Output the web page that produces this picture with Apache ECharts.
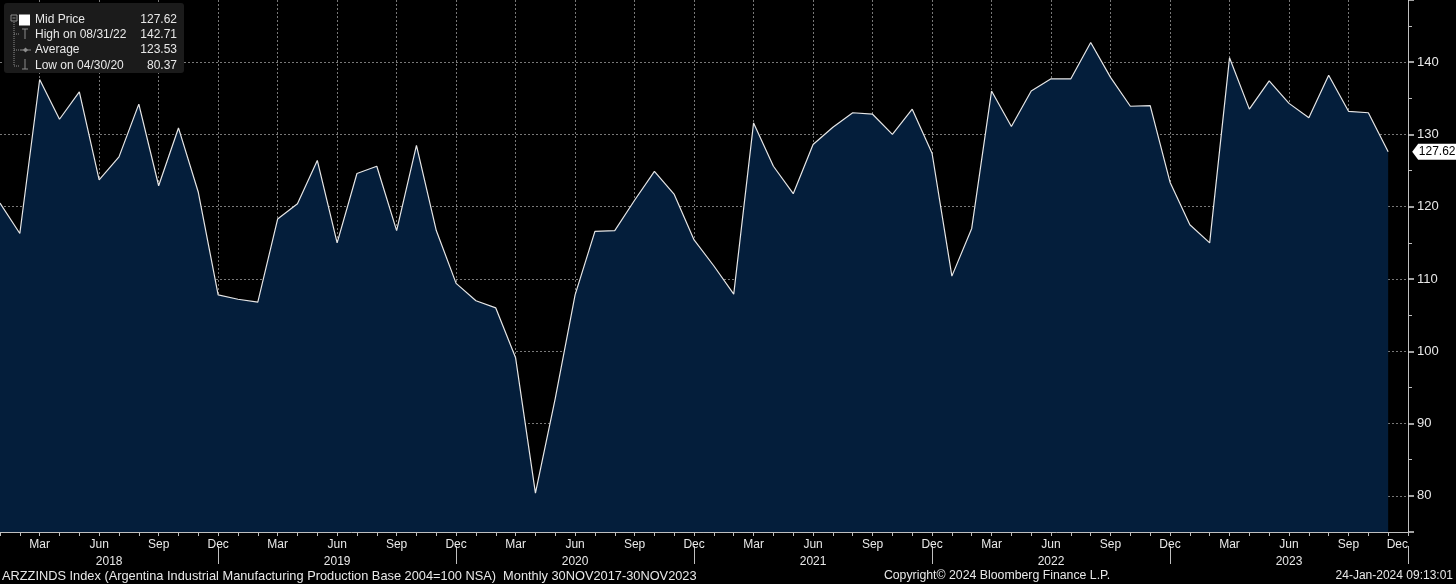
<!DOCTYPE html>
<html>
<head>
<meta charset="utf-8">
<script src="https://cdn.jsdelivr.net/npm/echarts@6/dist/echarts.min.js"></script>
<style>
  html, body { margin: 0; padding: 0; background: #000; }
  #chart { width: 1456px; height: 584px; }
</style>
</head>
<body>
<div id="chart"></div>
<script>
// ---- data ----
const years = ['2018', '2019', '2020', '2021', '2022', '2023'];
const monthNames = ['Jan', 'Feb', 'Mar', 'Apr', 'May', 'Jun', 'Jul', 'Aug', 'Sep', 'Oct', 'Nov', 'Dec'];
const tickMonths = ['Mar', 'Jun', 'Sep', 'Dec'];

// Monthly values Jan 2018 .. Nov 2023
const values2018 = [120.5, 116.3, 137.6, 132.1, 135.9, 123.7, 126.9, 134.2, 122.9, 130.9, 122.0, 107.8];
const values2019 = [107.2, 106.8, 118.3, 120.4, 126.4, 115.0, 124.6, 125.6, 116.7, 128.5, 116.7, 109.4];
const values2020 = [107.0, 106.0, 99.1, 80.37, 93.5, 107.8, 116.6, 116.7, 120.9, 124.9, 121.7, 115.4];
const values2021 = [111.8, 107.9, 131.6, 125.6, 121.8, 128.6, 131.0, 133.0, 132.8, 130.0, 133.5, 127.4];
const values2022 = [110.4, 117.0, 136.0, 131.1, 136.0, 137.7, 137.7, 142.71, 137.9, 133.9, 134.0, 123.4];
const values2023 = [117.5, 115.0, 140.6, 133.5, 137.4, 134.3, 132.3, 138.2, 133.2, 133.0, 127.62];

const legendLabels = ['High on 08/31/22', 'Average', 'Low on 04/30/20'];
const legendValues = ['142.71', '123.53', '80.37'];
const footerLeft = 'ARZZINDS Index (Argentina Industrial Manufacturing Production Base 2004=100 NSA)  Monthly 30NOV2017-30NOV2023';
const footerMid = 'Copyright\u00A9 2024 Bloomberg Finance L.P.';
const footerRight = '24-Jan-2024 09:13:01';

// ---- build ----
const months = [];
years.forEach(y => monthNames.forEach(m => months.push(m + ' ' + y)));
const values = [].concat(values2018, values2019, values2020, values2021, values2022, values2023);
const lastIndex = values.length - 1;
const lastValue = values[lastIndex];

const FONT = '"Liberation Sans", Arial, sans-serif';
const gridColor = 'rgba(200,200,200,0.6)';
const axisColor = '#bfbfbf';
const textColor = '#e8e8e8';

const chart = echarts.init(document.getElementById('chart'));

function txt(x, y, text, align, size) {
  return {
    type: 'text', z: 6,
    style: {
      x: x, y: y, text: text, fill: textColor,
      font: (size || 12) + 'px ' + FONT,
      align: align || 'left', verticalAlign: 'middle',
      textAlign: align || 'left', textVerticalAlign: 'middle'
    }
  };
}

const legendRows = [];
legendLabels.forEach((lab, i) => {
  const y = 34.5 + i * 15.5;
  legendRows.push(txt(35, y, lab, 'left'));
  legendRows.push(txt(177, y, legendValues[i], 'right'));
});

const iconColor = '#8c8c8c';
const icons = [
  // tree connector
  { type: 'line', z: 5, shape: { x1: 14, y1: 22, x2: 14, y2: 66 }, style: { stroke: iconColor, lineWidth: 1, lineDash: [1, 1] } },
  { type: 'rect', z: 5, shape: { x: 11, y: 15, width: 6, height: 6 }, style: { stroke: iconColor, fill: 'none', lineWidth: 1 } },
  { type: 'line', z: 5, shape: { x1: 12.5, y1: 18, x2: 15.5, y2: 18 }, style: { stroke: iconColor, lineWidth: 1 } },
  { type: 'line', z: 5, shape: { x1: 14, y1: 34, x2: 20, y2: 34 }, style: { stroke: iconColor, lineWidth: 1, lineDash: [1, 1] } },
  { type: 'line', z: 5, shape: { x1: 14, y1: 50, x2: 19, y2: 50 }, style: { stroke: iconColor, lineWidth: 1, lineDash: [1, 1] } },
  { type: 'line', z: 5, shape: { x1: 14, y1: 66, x2: 20, y2: 66 }, style: { stroke: iconColor, lineWidth: 1, lineDash: [1, 1] } },
  // High icon (T)
  { type: 'line', z: 5, shape: { x1: 22, y1: 29, x2: 28, y2: 29 }, style: { stroke: iconColor, lineWidth: 1 } },
  { type: 'line', z: 5, shape: { x1: 25, y1: 29, x2: 25, y2: 39 }, style: { stroke: iconColor, lineWidth: 1 } },
  // Average icon
  { type: 'line', z: 5, shape: { x1: 20, y1: 50, x2: 31, y2: 50 }, style: { stroke: iconColor, lineWidth: 1 } },
  { type: 'polygon', z: 5, shape: { points: [[25.5, 47.5], [28, 50], [25.5, 52.5], [23, 50]] }, style: { fill: iconColor } },
  // Low icon
  { type: 'line', z: 5, shape: { x1: 25, y1: 59, x2: 25, y2: 69 }, style: { stroke: iconColor, lineWidth: 1 } },
  { type: 'line', z: 5, shape: { x1: 22, y1: 69, x2: 28, y2: 69 }, style: { stroke: iconColor, lineWidth: 1 } }
];

const isTickMonth = (i, v) => tickMonths.indexOf(String(v).split(' ')[0]) >= 0;

chart.setOption({
  animation: false,
  backgroundColor: '#000000',
  textStyle: { fontFamily: FONT },
  grid: { left: 0, right: 48, top: 0, bottom: 52, containLabel: false },
  legend: {
    data: ['Mid Price'],
    left: 19, top: 14, padding: 0,
    icon: 'rect', itemWidth: 11, itemHeight: 11, itemGap: 0,
    itemStyle: { color: '#ffffff' },
    textStyle: {
      color: textColor, fontSize: 12, fontFamily: FONT,
      rich: {
        n: { width: 88, color: textColor, fontSize: 12, fontFamily: FONT },
        v: { width: 54, align: 'right', color: textColor, fontSize: 12, fontFamily: FONT }
      }
    },
    formatter: name => '{n|' + name + '}{v|' + lastValue.toFixed(2) + '}'
  },
  xAxis: [
    {
      type: 'category', data: months, boundaryGap: false, position: 'bottom', z: 3,
      axisLine: { show: true, lineStyle: { color: axisColor, width: 1 } },
      axisTick: { show: true, interval: 0, length: 4, lineStyle: { color: axisColor } },
      axisLabel: {
        interval: isTickMonth, formatter: v => v.split(' ')[0],
        color: textColor, fontSize: 12, margin: 7, alignMaxLabel: 'right'
      },
      splitLine: { show: true, interval: isTickMonth, lineStyle: { color: gridColor, type: [2, 2], width: 1 } }
    },
    {
      type: 'category', data: months, boundaryGap: false, position: 'bottom', offset: 14,
      axisLine: { show: false },
      axisTick: { show: true, interval: (i) => i % 12 === 11, length: 18, lineStyle: { color: axisColor } },
      axisLabel: {
        interval: (i) => i % 12 === 5,
        formatter: (v, i) => {
          const y = v.split(' ')[1];
          return i === 5 ? '{s|' + y + '}' : y;
        },
        color: textColor, fontSize: 12, margin: 10,
        rich: { s: { padding: [0, 0, 0, 20], color: textColor, fontSize: 12, fontFamily: FONT } }
      },
      splitLine: { show: false }
    }
  ],
  yAxis: {
    type: 'value', position: 'right', min: 75, max: 148.6, minInterval: 10, maxInterval: 10, z: 3,
    axisLine: { show: true, lineStyle: { color: axisColor, width: 1 } },
    axisTick: { show: true, length: 6, lineStyle: { color: '#d8d8d8', width: 1.5 } },
    minorTick: { show: true, splitNumber: 2, length: 4, lineStyle: { color: axisColor } },
    axisLabel: { color: textColor, fontSize: 13, margin: 9, showMinLabel: false, showMaxLabel: false },
    splitLine: { show: true, showMinLine: false, showMaxLine: false, lineStyle: { color: gridColor, type: [2, 2], width: 1 } },
    minorSplitLine: { show: false }
  },
  series: [{
    name: 'Mid Price',
    type: 'line',
    data: values,
    xAxisIndex: 0,
    symbol: 'none',
    color: '#ffffff',
    lineStyle: { color: '#e6e6e6', width: 1.2 },
    areaStyle: { color: '#041e3b', opacity: 1 },
    markPoint: {
      symbol: 'path://M0,8 L6,0 L46,0 L46,16 L6,16 Z',
      symbolSize: [46, 16],
      symbolOffset: [47, 0],
      itemStyle: { color: '#ffffff' },
      label: { show: true, position: 'inside', color: '#000000', fontSize: 12, offset: [2, 0], formatter: p => Number(p.value).toFixed(2) },
      data: [{ coord: [lastIndex, lastValue], value: lastValue }]
    }
  }],
  graphic: [
    { type: 'rect', z: 4, shape: { x: 4, y: 3, width: 180, height: 70, r: 3 }, style: { fill: '#1b1b1b' } },
    ...icons,
    ...legendRows,
    txt(2, 576, footerLeft, 'left', 12.8),
    txt(997, 576, footerMid, 'center', 12.3),
    txt(1453, 576, footerRight, 'right', 12)
  ]
});
</script>
</body>
</html>
